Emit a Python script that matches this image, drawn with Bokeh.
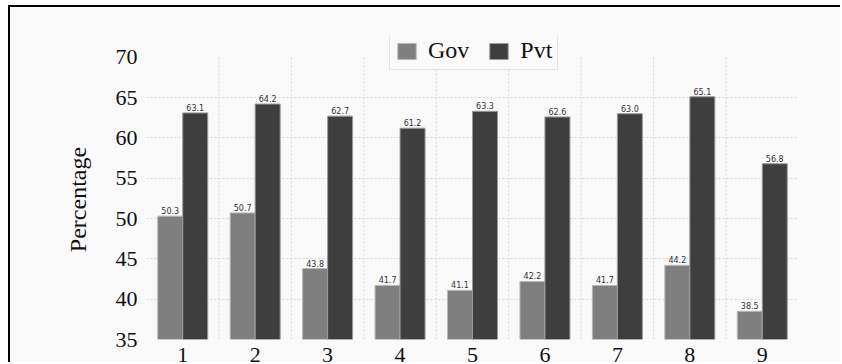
from bokeh.plotting import figure
from bokeh.models import ColumnDataSource, FixedTicker, Legend, LegendItem, Range1d
from bokeh.transform import dodge
from bokeh.core.properties import value
from bokeh.embed import file_html
from bokeh.resources import INLINE

groups = [1, 2, 3, 4, 5, 6, 7, 8, 9]
gov = [50.3, 50.7, 43.8, 41.7, 41.1, 42.2, 41.7, 44.2, 38.5]
pvt = [63.1, 64.2, 62.7, 61.2, 63.3, 62.6, 63.0, 65.1, 56.8]
y_ticks = [35, 40, 45, 50, 55, 60, 65, 70]

src = ColumnDataSource(dict(
    x=groups, gov=gov, pvt=pvt,
    gov_lbl=[f"{v:.1f}" for v in gov],
    pvt_lbl=[f"{v:.1f}" for v in pvt],
))

BG = "#f9f9f9"
y_min, y_max = y_ticks[0], y_ticks[-1]
p = figure(width=832, height=357, output_backend="svg", toolbar_location=None,
           x_range=Range1d(0.5, 9.5), y_range=Range1d(y_min, 72.7),
           min_border_left=136, min_border_right=44, min_border_top=28, min_border_bottom=24,
           background_fill_color=BG, border_fill_color=BG, outline_line_color=None)
p.styles = {"margin-left": "8px", "margin-top": "5px",
            "border-left": "2px solid #000", "border-top": "2px solid #000"}

# vertical separators between groups (grid lines limited to the value range)
bounds = [g + 0.5 for g in groups[:-1]]
p.segment(x0=bounds, y0=[y_min] * len(bounds), x1=bounds, y1=[y_max] * len(bounds),
          line_color="#d4d4d4", line_dash="2 2", line_width=1)

off = 0.1725
w = 0.345
r1 = p.vbar(x=dodge("x", -off), top="gov", bottom=y_min, width=w, source=src,
            fill_color="#7f7f7f", line_color="#b8b8b8", line_width=1)
r2 = p.vbar(x=dodge("x", off), top="pvt", bottom=y_min, width=w, source=src,
            fill_color="#3e3e3e", line_color="#9a9a9a", line_width=1)

for fld, lbl, o in (("gov", "gov_lbl", -off), ("pvt", "pvt_lbl", off)):
    p.text(x=dodge("x", o), y=fld, text=lbl, source=src, text_align="center",
           text_baseline="bottom", y_offset=-2, text_font=value("DejaVu Sans"),
           text_font_size="8px", text_color="#333333")

p.xaxis.ticker = FixedTicker(ticks=groups)
p.yaxis.ticker = FixedTicker(ticks=y_ticks)
p.xgrid.visible = False
p.ygrid.ticker = FixedTicker(ticks=y_ticks[:-1])
for ax in (p.xaxis, p.yaxis):
    ax.axis_line_color = None
    ax.major_tick_line_color = None
    ax.minor_tick_line_color = None
    ax.major_label_text_font = "Liberation Serif"
    ax.major_label_text_font_size = "22px"
    ax.major_label_text_color = "#111111"
p.xaxis.major_label_standoff = 2
p.yaxis.major_label_standoff = 3
p.yaxis.axis_label = "Percentage    "
p.yaxis.axis_label_text_font = "Liberation Serif"
p.yaxis.axis_label_text_font_size = "24px"
p.yaxis.axis_label_text_font_style = "normal"
p.yaxis.axis_label_text_color = "#111111"
p.yaxis.axis_label_standoff = 22

p.ygrid.grid_line_color = "#d4d4d4"
p.ygrid.grid_line_dash = "2 2"
p.ygrid.grid_line_width = 1

legend = Legend(items=[LegendItem(label="Gov", renderers=[r1]),
                       LegendItem(label="Pvt", renderers=[r2])],
                location=(243, 269), orientation="horizontal",
                glyph_width=23, glyph_height=20, label_standoff=10, spacing=18,
                padding=5, margin=0,
                label_text_font="Liberation Serif", label_text_font_size="24px",
                label_text_color="#111111",
                background_fill_color=BG, background_fill_alpha=1,
                border_line_color="#d0d0d0", border_line_width=1)
p.add_layout(legend)

open("out.html", "w").write(file_html(p, INLINE))
